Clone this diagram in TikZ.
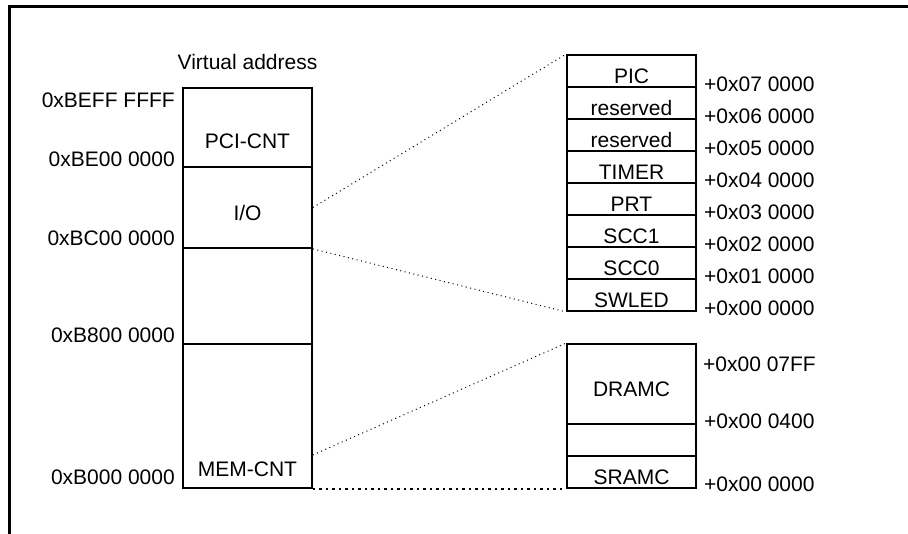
\documentclass[tikz,border=0pt]{standalone}
\usepackage{fontspec}
\setmainfont{Liberation Sans}
\usepackage{tikz}
\usetikzlibrary{calc}
\tikzset{region/.style={draw, line width=1.8pt, minimum width=129pt, inner sep=0pt}}
\tikzset{cell/.style={region, minimum height=32pt, text height=25pt, text depth=0pt}}
\tikzset{addr/.style={anchor=east, inner sep=0pt}}
\tikzset{offs/.style={anchor=west, inner sep=0pt}}
\tikzset{link/.style={line width=1pt, dash pattern=on 1pt off 3.5pt}}
\tikzset{linkHeavy/.style={line width=2pt, dash pattern=on 2.5pt off 4pt}}

\begin{document}
\begin{tikzpicture}[x=1pt, y=-1pt, font=\fontsize{21}{25}\selectfont]
\useasboundingbox (0,0) rectangle (908,534);

\draw[line width=3pt] (9,534) -- (9,7) -- (908,7);

\node[] (title) at (247.5, 62) {Virtual address};

\node[region, minimum height=79pt] (pci) at (247.5, 127.5) {};
\node[region, minimum height=81pt] (io) at (247.5, 207.5) {};
\node[region, minimum height=96pt] (gap) at (247.5, 296) {};
\node[region, minimum height=144pt] (mem) at (247.5, 416) {};

\node[] (pcitxt) at (247.5, 141) {PCI-CNT};
\node[] (iotxt) at (247.5, 213) {I/O};
\node[] (memtxt) at (247.5, 469) {MEM-CNT};

\node[addr] (v0) at (175, 100) {0xBEFF FFFF};
\node[addr] (v1) at (175, 159) {0xBE00 0000};
\node[addr] (v2) at (175, 238) {0xBC00 0000};
\node[addr] (v3) at (175, 335) {0xB800 0000};
\node[addr] (v4) at (175, 477) {0xB000 0000};

\node[cell] (pic) at (631.5, 71) {PIC};
\node[cell] (rsv1) at (631.5, 103) {reserved};
\node[cell] (rsv0) at (631.5, 135) {reserved};
\node[cell] (timer) at (631.5, 167) {TIMER};
\node[cell] (prt) at (631.5, 199) {PRT};
\node[cell] (scc1) at (631.5, 231) {SCC1};
\node[cell] (scc0) at (631.5, 263) {SCC0};
\node[cell] (swled) at (631.5, 295) {SWLED};

\node[offs] (o7) at (704, 84) {+0x07 0000};
\node[offs] (o6) at (704, 116) {+0x06 0000};
\node[offs] (o5) at (704, 148) {+0x05 0000};
\node[offs] (o4) at (704, 180) {+0x04 0000};
\node[offs] (o3) at (704, 212) {+0x03 0000};
\node[offs] (o2) at (704, 244) {+0x02 0000};
\node[offs] (o1) at (704, 276) {+0x01 0000};
\node[offs] (o0) at (704, 308) {+0x00 0000};

\node[cell, minimum height=80pt] (dram) at (631.5, 384) {DRAMC};
\node[cell] (hole) at (631.5, 440) {};
\node[cell] (sram) at (631.5, 472) {SRAMC};

\node[offs] (m2) at (703, 364) {+0x00 07FF};
\node[offs] (m1) at (704, 421) {+0x00 0400};
\node[offs] (m0) at (704, 484) {+0x00 0000};

\draw[link] (io.east) -- (pic.north west);
\draw[link] (io.south east) -- (swled.south west);
\draw[link] ($(mem.south east)+(0,-34)$) -- (dram.north west);
\draw[linkHeavy] (mem.south east) -- (sram.south west);

\end{tikzpicture}
\end{document}
